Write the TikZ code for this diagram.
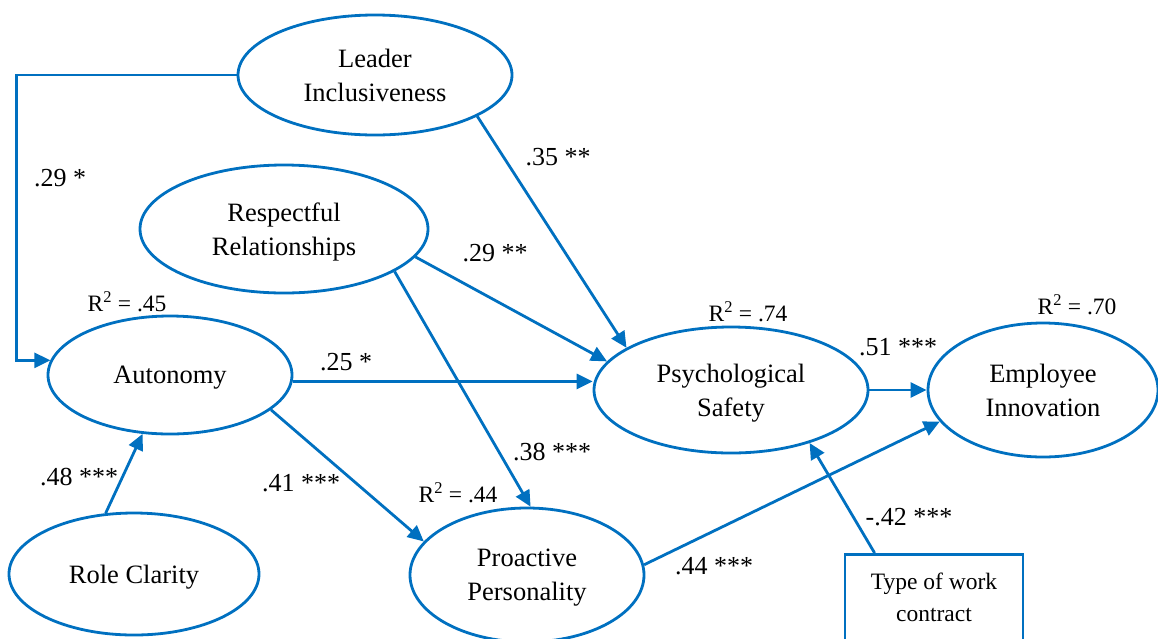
\documentclass[tikz,border=0pt]{standalone}
\usepackage{fontspec}
\setmainfont{Liberation Serif}
\usetikzlibrary{shapes.geometric,arrows.meta}
\definecolor{semblue}{RGB}{0,112,192}
\begin{document}
\begin{tikzpicture}[x=1pt,y=-1pt,
        var/.style={ellipse,draw=semblue,line width=2.8pt,inner sep=0pt,text depth=0pt,align=center,font=\fontsize{26.5}{34}\selectfont},
        coef/.style={inner sep=0pt,font=\fontsize{26}{30}\selectfont},
        rsq/.style={inner sep=0pt,font=\fontsize{23.5}{28}\selectfont},
        link/.style={draw=semblue,line width=2.8pt,-{Triangle[length=16pt,width=15pt]}}]
                \useasboundingbox (0,0) rectangle (1158,638);
                \node[var,minimum width=274pt,minimum height=120pt] (lead) at (375,75) {Leader\\Inclusiveness};
                \node[var,minimum width=288pt,minimum height=128pt] (resp) at (284,229) {Respectful\\Relationships};
                \node[var,minimum width=244pt,minimum height=118pt] (auto) at (170,375) {Autonomy};
                \node[var,minimum width=250pt,minimum height=122pt] (role) at (134,574) {Role Clarity};
                \node[var,minimum width=234pt,minimum height=134pt] (proa) at (527,575) {Proactive\\Personality};
                \node[var,minimum width=274pt,minimum height=126pt] (psy) at (731,390) {Psychological\\Safety};
                \node[var,minimum width=230pt,minimum height=134pt] (emp) at (1043,390) {Employee\\Innovation};
                \node[draw=semblue,line width=2.8pt,minimum width=178pt,minimum height=86pt,anchor=north,align=center,
                    font=\fontsize{23.5}{32}\selectfont] (work) at (934,553) {Type of work\\contract};
                \draw[link] (lead.west) -- ++(-220,0) |- (auto.173);
                \draw[link] (lead.-22) -- (psy.158);
                \draw[link] (resp.-12) -- (psy.167);
                \draw[link] (resp.-21) -- (proa.87);
                \draw[link] (auto.-3) -- (auto.-3 -| psy.west);
                \draw[link] (auto.-19) -- (proa.162);
                \draw[link] (role.115) -- (auto.245);
                \draw[link] (psy.east) -- (emp.west);
                \draw[link] (proa.5) -- (emp.197);
                \draw[link] ([xshift=31pt]work.north west) -- (psy.-34);
                \node[coef] (w1) at (60,178) {.29 *};
                \node[coef] (w2) at (558,157) {.35 **};
                \node[coef] (w3) at (495,253) {.29 **};
                \node[coef] (w4) at (346,362) {.25 *};
                \node[coef] (w5) at (898,347) {.51 ***};
                \node[coef] (w6) at (552,452) {.38 ***};
                \node[coef] (w7) at (301,483) {.41 ***};
                \node[coef] (w8) at (79,477) {.48 ***};
                \node[coef] (w9) at (909,517) {-.42 ***};
                \node[coef] (w10) at (714,566) {.44 ***};
                \node[rsq] (r1) at (127,302) {R\textsuperscript{2} = .45};
                \node[rsq] (r2) at (748,312) {R\textsuperscript{2} = .74};
                \node[rsq] (r3) at (1077,305) {R\textsuperscript{2} = .70};
                \node[rsq] (r4) at (458,493) {R\textsuperscript{2} = .44};
\end{tikzpicture}
\end{document}
